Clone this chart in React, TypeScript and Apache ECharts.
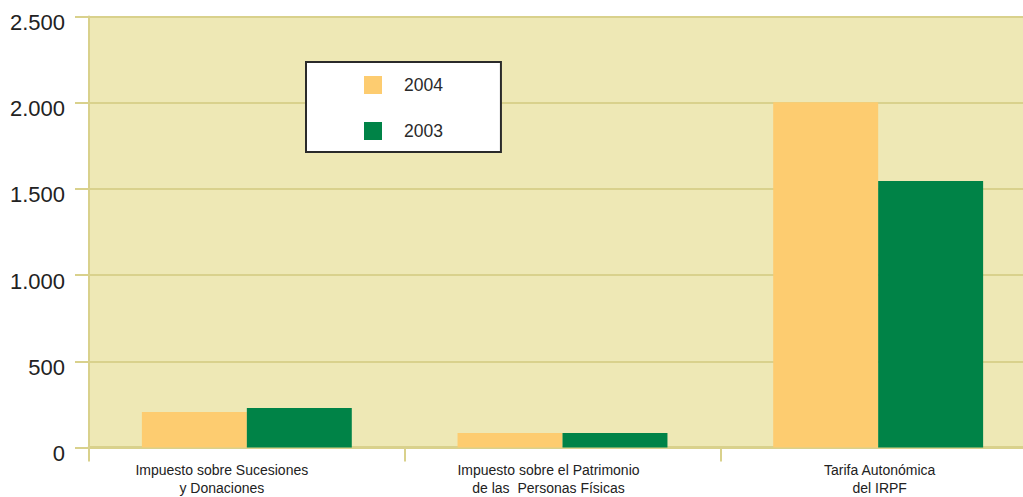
import React, { useEffect, useRef } from "react";
import * as echarts from "echarts";

const categories = [
  "Impuesto sobre Sucesiones\ny Donaciones",
  "Impuesto sobre el Patrimonio\nde las  Personas Físicas",
  "Tarifa Autonómica\ndel IRPF",
];
const seriesNames = ["2004", "2003"];
const values2004 = [206, 84, 2002];
const values2003 = [229, 84, 1546];
const yTicks = [0, 500, 1000, 1500, 2000, 2500];
const yTickLabels = ["0", "500", "1.000", "1.500", "2.000", "2.500"];
// horizontal nudge of each category label (label paddings, in px)
const labelPads = [
  [0, 50, 0, 0],
  [0, 28, 0, 0],
  [0, 0, 0, 3],
];

const GRID = "#D9D18C";
const FONT = "'Liberation Sans', Arial, sans-serif";

export default function App() {
  const ref = useRef<HTMLDivElement>(null);
  useEffect(() => {
    if (!ref.current) return;
    const chart = echarts.init(ref.current, undefined, { renderer: "svg" });
    chart.setOption({
      animation: false,
      backgroundColor: "#FFFFFF",
      grid: {
        left: 89,
        top: 16.5,
        width: 947,
        bottom: 49.5,
        outerBoundsMode: "none",
        containLabel: false,
        show: true,
        backgroundColor: "#EEE8B5",
        borderWidth: 0,
      },
      legend: {
        data: seriesNames,
        orient: "vertical",
        left: 306,
        top: 62,
        backgroundColor: "#FFFFFF",
        borderColor: "#2a2a2a",
        borderWidth: 2,
        borderRadius: 0,
        padding: [14, 58, 12, 58],
        itemWidth: 18,
        itemHeight: 18,
        itemGap: 28,
        icon: "rect",
        textStyle: {
          fontFamily: FONT,
          fontSize: 17.5,
          color: "#2a2a2a",
          padding: [0, 0, 0, 17],
        },
      },
      xAxis: {
        type: "category",
        data: categories.map((c, i) => ({
          value: c,
          textStyle: { padding: labelPads[i] },
        })),
        axisLine: { show: true, lineStyle: { color: GRID, width: 3 } },
        axisTick: { show: true, length: 14, lineStyle: { color: GRID, width: 2 } },
        axisLabel: {
          fontFamily: FONT,
          fontSize: 14,
          color: "#222",
          margin: 13,
          lineHeight: 18,
        },
      },
      yAxis: {
        type: "value",
        min: 0,
        max: 2500,
        interval: 500,
        axisLine: { show: true, lineStyle: { color: GRID, width: 2 } },
        axisTick: { show: true, length: 14, lineStyle: { color: GRID, width: 2 } },
        splitLine: { show: true, lineStyle: { color: GRID, width: 2 } },
        axisLabel: {
          color: "#222",
          margin: 24,
          formatter: (v: number) => {
            const i = yTicks.indexOf(v);
            return "{v|" + (i >= 0 ? yTickLabels[i] : String(v)) + "}";
          },
          rich: {
            v: {
              fontFamily: FONT,
              fontSize: 22,
              color: "#222",
              padding: [12, 0, 0, 0],
            },
          },
        },
      },
      series: [
        {
          name: seriesNames[0],
          type: "bar",
          data: values2004,
          itemStyle: { color: "#FDCC70" },
          barGap: "0%",
          barCategoryGap: "33.5%",
        },
        {
          name: seriesNames[1],
          type: "bar",
          data: values2003,
          itemStyle: { color: "#008347" },
          barGap: "0%",
          barCategoryGap: "33.5%",
        },
      ],
    });
    return () => chart.dispose();
  }, []);
  return (
    <div
      ref={ref}
      style={{ position: "absolute", left: 0, top: 0, width: 1023, height: 497 }}
    />
  );
}
